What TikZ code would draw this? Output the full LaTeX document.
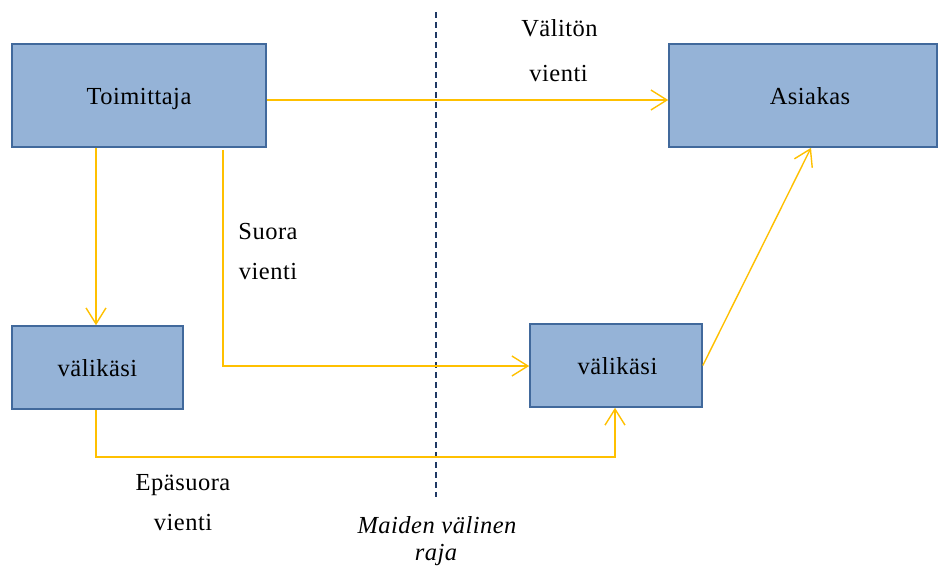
\documentclass[tikz,border=0pt]{standalone}
\usepackage{fontspec}
\setmainfont{Liberation Serif}[LetterSpace=2]
\usetikzlibrary{arrows.meta}
\definecolor{boxfill}{HTML}{95B3D7}
\definecolor{boxline}{HTML}{41699C}
\definecolor{arr}{HTML}{FFC000}
\definecolor{dashc}{HTML}{1F3864}
\begin{document}
\begin{tikzpicture}[x=1pt,y=-1pt,
  box/.style={draw=boxline,fill=boxfill,line width=1.6pt,inner sep=0pt},
  conn/.style={draw=arr,line width=1.4pt,-{Straight Barb[length=16pt,width=20pt,line width=1.4pt]}},
  lbl/.style={font=\fontsize{24.5}{28}\selectfont,inner sep=0pt,anchor=base}]
\useasboundingbox (0,0) rectangle (941,568);
\node[box,minimum width=254pt,minimum height=103pt] (toim) at (139,95.5) {};
\node[box,minimum width=268pt,minimum height=103pt] (asia) at (803,95.5) {};
\node[box,minimum width=171pt,minimum height=83pt] (v1) at (97.5,367.5) {};
\node[box,minimum width=172pt,minimum height=83pt] (v2) at (616,365.5) {};
\node[lbl] (toimT) at (139,104) {Toimittaja};
\node[lbl] (asiaT) at (810,104) {Asiakas};
\node[lbl] (v1T) at (97.5,376) {välikäsi};
\node[lbl] (v2T) at (617.5,374) {välikäsi};
\draw[dashc,line width=1.2pt,dash pattern=on 6pt off 4pt] (436,12) -- (436,497);
\coordinate (c1) at (223,366);
\coordinate (c2) at (96,457);
\coordinate (c3) at (615,457);
\draw[conn] (toim.east |- 0,100) -- (asia.west |- 0,100);
\draw[conn] (toim.south -| 96,0) -- (v1.north -| 96,0);
\draw[conn,shorten <=2pt] (toim.south -| c1) -- (c1) -- (v2.west |- c1);
\draw[conn] (v1.south -| c2) -- (c2) -- (c3) -- (v2.south -| c3);
\draw[conn] (v2.east) -- (asia.south -| 811,0);
\node[lbl] (l1) at (559.5,36) {Välitön};
\node[lbl] (l2) at (558.5,81) {vienti};
\node[lbl] (l3) at (268,239) {Suora};
\node[lbl] (l4) at (268,279) {vienti};
\node[lbl] (l5) at (183,490) {Epäsuora};
\node[lbl] (l6) at (183,530) {vienti};
\node[lbl,font=\fontsize{24.5}{28}\selectfont\itshape] (l7) at (437,533) {Maiden välinen};
\node[lbl,font=\fontsize{24.5}{28}\selectfont\itshape] (l8) at (436,560) {raja};
\end{tikzpicture}
\end{document}
